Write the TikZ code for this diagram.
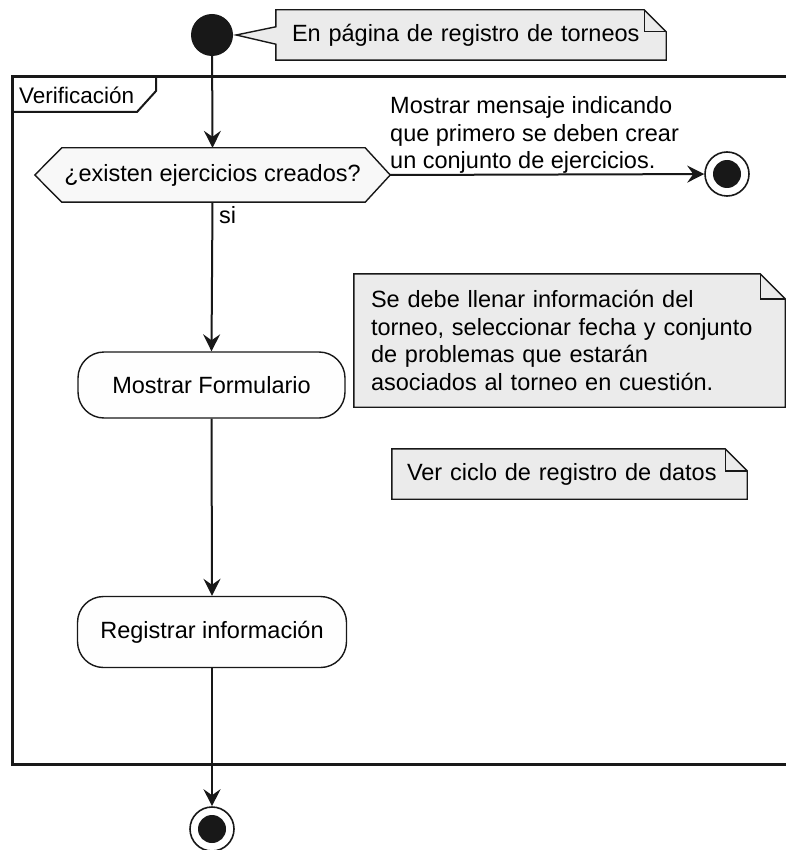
\documentclass[tikz,border=0pt]{standalone}
\usepackage{fontspec}
\setmainfont{Liberation Sans}
\usetikzlibrary{arrows.meta,backgrounds}
\definecolor{linec}{HTML}{181818}
\definecolor{notebg}{HTML}{EBEBEB}
\definecolor{decbg}{HTML}{F8F8F8}
\definecolor{actbg}{HTML}{FEFEFE}
% outline of a note with a folded top-right corner, drawn behind the node
\newcommand\foldnote[2]{%
  \begin{scope}[on background layer]
    \draw[noteline,fill=notebg] (#1.north west) -- ([xshift=-#2pt]#1.north east)
      -- ([yshift=-#2pt]#1.north east) -- (#1.south east) -- (#1.south west) -- cycle;
    \draw[noteline] ([xshift=-#2pt]#1.north east) |- ([yshift=-#2pt]#1.north east);
  \end{scope}}
\begin{document}
\begin{tikzpicture}[x=1pt,y=-1pt,
  font=\fontsize{23.5}{27.5}\selectfont,
  flow/.style={draw=linec,line width=2pt,-{Stealth[length=17pt,width=17pt,inset=6pt]}},
  noteline/.style={draw=linec,line width=1.4pt,line join=miter},
  notebox/.style={inner xsep=#1, inner ysep=0pt, align=left, anchor=center},
  activity/.style={draw=linec,line width=1.4pt,fill=actbg,rounded corners=26pt,
    inner sep=0pt},
  startnode/.style={circle,fill=linec,minimum size=42pt,inner sep=0pt},
  endnode/.style={circle,draw=linec,line width=1.6pt,fill=white,minimum size=44pt,
    inner sep=0pt,path picture={\fill[linec] (path picture bounding box.center) circle (14pt);}},
]
\useasboundingbox (0,0) rectangle (786,850);

% swimlane frame of the "Verificación" group (runs off the right edge)
\draw[linec,line width=3pt] (786,77) -- (12,77) -- (12,764) -- (786,764);
\draw[linec,line width=2pt] (12,112) -- (137,112) -- (156,91) -- (156,77);
\node[anchor=west,inner sep=0pt,font=\fontsize{22.5}{26}\selectfont] (grp) at (19,95) {Verificación};

% nodes
\node[startnode] (start) at (212,35) {};

\node[notebox=16pt,text width=358pt,minimum height=50pt] (n1) at (471,35)
  {En página de registro de torneos};
\begin{scope}[on background layer]
  \draw[noteline,fill=notebg] (n1.north west) -- ([xshift=-22pt]n1.north east)
    -- ([yshift=-22pt]n1.north east) -- (n1.south east) -- (n1.south west)
    -- ([yshift=16pt]n1.south west) -- ([xshift=3pt]start.east)
    -- ([yshift=-17pt]n1.north west) -- cycle;
  \draw[noteline] ([xshift=-22pt]n1.north east) |- ([yshift=-22pt]n1.north east);
\end{scope}

\node[inner sep=0pt,minimum width=355pt,minimum height=54pt] (dec) at (212.5,175)
  {¿existen ejercicios creados?};
\begin{scope}[on background layer]
  \draw[linec,line width=1.4pt,fill=decbg,line join=miter] (dec.west)
    -- ([xshift=27pt]dec.north west) -- ([xshift=-25pt]dec.north east)
    -- (dec.east) -- ([xshift=-25pt]dec.south east)
    -- ([xshift=27pt]dec.south west) -- cycle;
\end{scope}

\node[anchor=west,inner sep=0pt,align=left] (msg) at (390,135)
  {Mostrar mensaje indicando\\que primero se deben crear\\un conjunto de ejercicios.};

\node[endnode] (endA) at (727,174) {};

\node[anchor=west,inner sep=0pt] (si) at (219,215) {si};

\node[activity,minimum width=267pt,minimum height=66pt] (form) at (211.5,385)
  {Mostrar Formulario};
\node[activity,minimum width=269pt,minimum height=71pt] (reg) at (212,632)
  {Registrar información};

\node[notebox=17pt,text width=397pt,minimum height=133pt] (n2) at (569.5,340.5)
  {Se debe llenar información del\\torneo, seleccionar fecha y conjunto\\de problemas que estarán\\asociados al torneo en cuestión.};
\foldnote{n2}{25}

\node[notebox=15pt,text width=325pt,minimum height=50pt] (n3) at (569.5,474)
  {Ver ciclo de registro de datos};
\foldnote{n3}{22}

\node[endnode] (endB) at (212,829) {};

% connectors
\draw[flow] (start) -- (dec.north);
\draw[flow] (dec.east) -- (endA);
\draw[flow] (dec.south) -- (form.north);
\draw[flow] (form.south) -- (reg.north);
\draw[flow] (reg.south) -- (endB);
\end{tikzpicture}
\end{document}
